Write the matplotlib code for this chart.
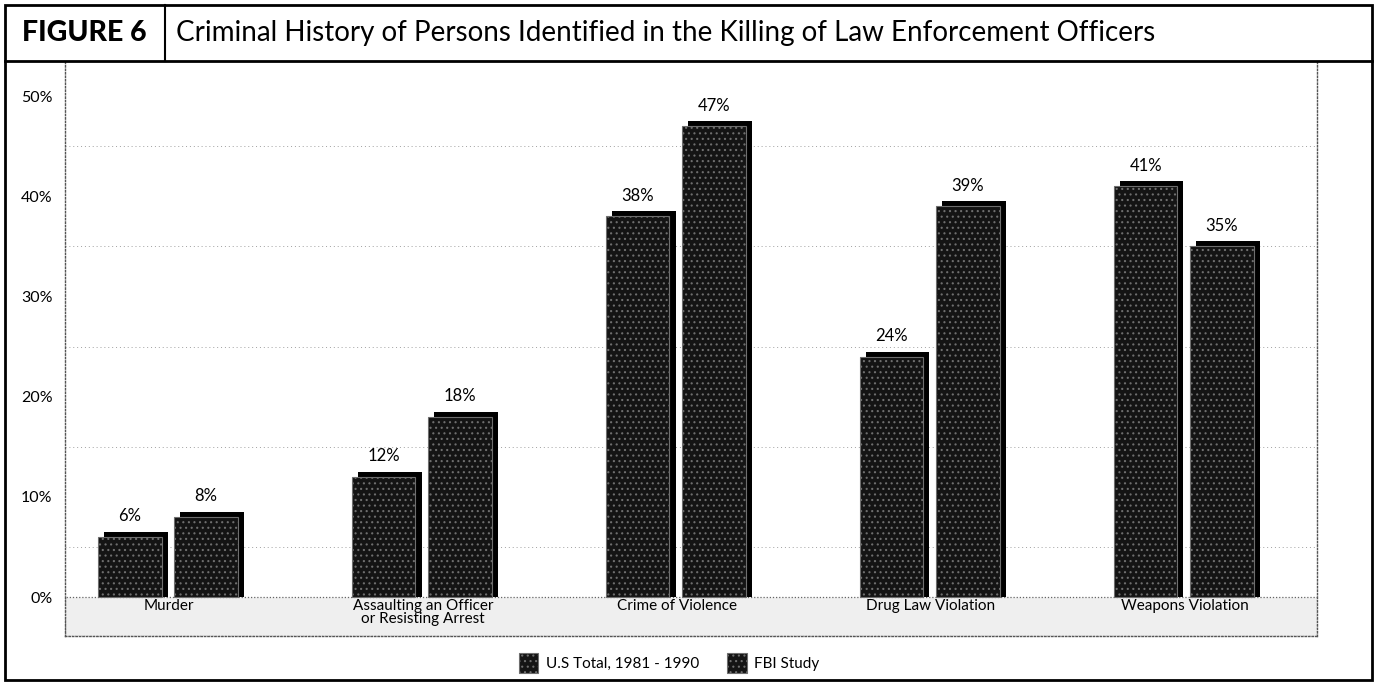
import numpy as np
import matplotlib
matplotlib.use("Agg")
import matplotlib.pyplot as plt
from matplotlib.lines import Line2D
from matplotlib.patches import Rectangle

# ---- data ----
categories = ["Murder", "Assaulting an Officer\nor Resisting Arrest",
              "Crime of Violence", "Drug Law Violation", "Weapons Violation"]
us_total = [6, 12, 38, 24, 41]
fbi_study = [8, 18, 47, 39, 35]
series_names = ["U.S Total, 1981 - 1990", "FBI Study"]
y_ticks = [0, 10, 20, 30, 40, 50]
title = "Criminal History of Persons Identified in the Killing of Law Enforcement Officers"
fig_label = "FIGURE 6"

plt.rcParams["font.family"] = ["Lato", "DejaVu Sans"]
plt.rcParams["hatch.linewidth"] = 0.8

W, H = 1374, 692
fig = plt.figure(figsize=(W / 100, H / 100), dpi=100)
fig.patch.set_facecolor("white")

def fx(px):
    return px / W

def fy(py):
    return 1 - py / H

ax = fig.add_axes([fx(65), fy(636), fx(1317) - fx(65), fy(62) - fy(636)])
ax.set_xlim(-0.41, 4.52)
ax.set_ylim(-3.89, 53.4)

x = np.arange(len(categories))
width = 0.25
offsets = [-0.155, 0.145]
shadow_dx, shadow_dy = 0.024, 0.5

# grid every 5%
ax.set_yticks(y_ticks)
ax.set_yticklabels([f"{t}%" for t in y_ticks], fontsize=11.5)
ax.set_yticks(np.arange(5, 55, 5), minor=True)
ax.tick_params(axis="y", which="both", length=0, pad=9)
ax.tick_params(axis="x", length=0)
ax.set_xticks([])
ax.yaxis.grid(True, which="minor", color="#a0a0a0", linestyle=(0, (1, 3)), linewidth=0.7)
ax.set_axisbelow(True)

for side in ["left", "right", "bottom"]:
    ax.spines[side].set_linestyle((0, (1, 1.5)))
    ax.spines[side].set_color("#555555")
    ax.spines[side].set_linewidth(1.0)
ax.spines["top"].set_visible(False)

# category band below the baseline
ax.axhspan(-3.89, 0, facecolor="#efefef", edgecolor="#666666",
           linestyle=(0, (1, 1.5)), linewidth=0.9, zorder=1)

handles = []
for vals, off in zip([us_total, fbi_study], offsets):
    vals = np.array(vals, dtype=float)
    ax.bar(x + off + shadow_dx, vals + shadow_dy, width, color="black",
           linewidth=0, zorder=2)
    front = ax.bar(x + off, vals, width, facecolor="#141414",
                   edgecolor="#6e6e6e", hatch="...", linewidth=0.8, zorder=3)
    handles.append(front)
    for xi, v in zip(x + off, vals):
        ax.text(xi, v + shadow_dy + 0.75, f"{int(v)}%", ha="center",
                va="bottom", fontsize=12, zorder=4)

for xi, cat in zip(x, categories):
    ax.text(xi, -0.2, cat, ha="center", va="top", fontsize=11,
            linespacing=0.95, zorder=4)

fig.legend(handles, series_names, loc="center", ncol=2, frameon=False,
           bbox_to_anchor=(fx(669), fy(663)), fontsize=11,
           handlelength=1.3, handleheight=1.7, columnspacing=1.8,
           handletextpad=0.5)

# frame and header
fig.add_artist(Rectangle((fx(5), fy(680)), fx(1372) - fx(5), fy(5) - fy(680),
                         transform=fig.transFigure, fill=False,
                         edgecolor="black", linewidth=2.0))
fig.add_artist(Line2D([fx(5), fx(1372)], [fy(61), fy(61)],
                      transform=fig.transFigure, color="black", linewidth=2.0))
fig.add_artist(Line2D([fx(165), fx(165)], [fy(5), fy(61)],
                      transform=fig.transFigure, color="black", linewidth=1.5))
fig.text(fx(84), fy(33), fig_label, ha="center", va="center",
         fontsize=20.5, fontweight="black")
fig.text(fx(176), fy(33), title, ha="left", va="center", fontsize=20)

fig.savefig("out.png", dpi=100, facecolor="white")
